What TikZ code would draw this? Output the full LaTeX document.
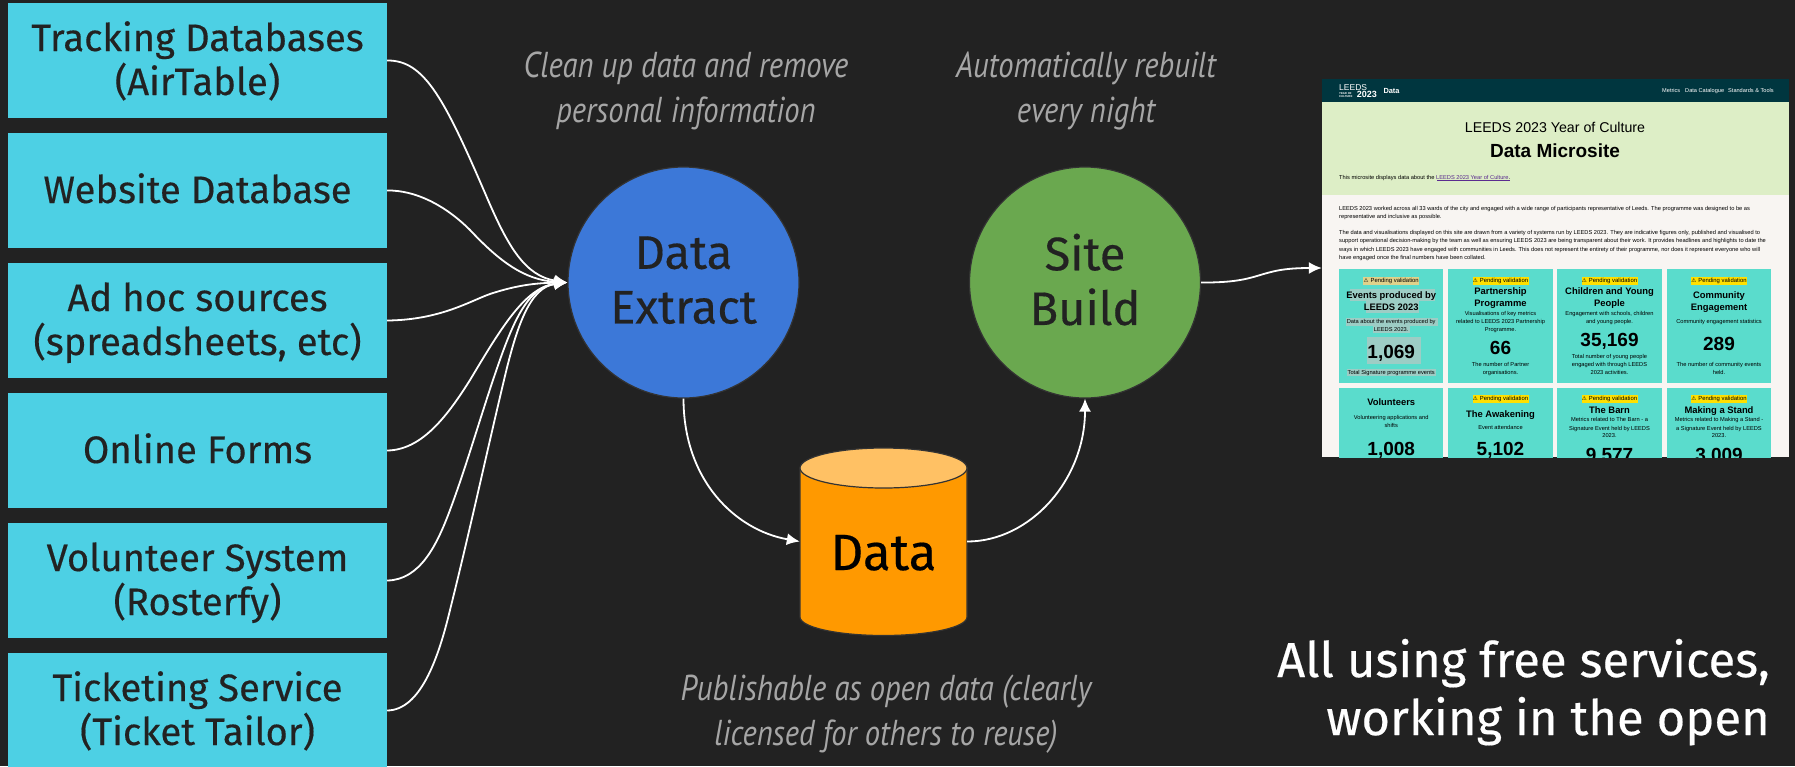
\documentclass[tikz,border=0pt]{standalone}
\usepackage{fontspec}
\setmainfont[FakeBold=0.35]{Fira Sans}
\newfontfamily\shot{Liberation Sans}
\newfontfamily\symf{DejaVu Sans}
\newfontfamily\hand[FakeStretch=0.85]{PT Sans}
\usetikzlibrary{arrows.meta}
\definecolor{bgc}{HTML}{222222}
\definecolor{boxc}{HTML}{4DD0E4}
\definecolor{inkc}{HTML}{222222}
\definecolor{blc}{HTML}{3C78D8}
\definecolor{grc}{HTML}{6AA84F}
\definecolor{edgec}{HTML}{333333}
\definecolor{orc}{HTML}{FF9900}
\definecolor{ortop}{HTML}{FFC164}
\definecolor{handc}{HTML}{A6A6A6}
\definecolor{headc}{HTML}{00363F}
\definecolor{leafc}{HTML}{DDEEC6}
\definecolor{paperc}{HTML}{F8F5F2}
\definecolor{cardc}{HTML}{5ADCCC}
\definecolor{yelc}{HTML}{FFE000}
\definecolor{selc}{HTML}{9DCDC5}
\definecolor{selb}{HTML}{E0D28B}
\definecolor{linkc}{HTML}{5B2C8F}
\newcommand{\bstrut}{\rule[-9pt]{0pt}{43pt}}
\newcommand{\cstrut}{\rule[-6.4pt]{0pt}{40pt}}
\newcount\tcnt
\newcommand{\fs}[1]{\fontsize{#1}{#1}\selectfont}
% text line in the screenshot: size, x, y(baseline), text
\newcommand{\tc}[4]{\global\advance\tcnt by 1 \node[shottext,anchor=base,font={\shot\fs{#1}}] (t\the\tcnt) at (#2,#3) {#4};}
\newcommand{\tb}[4]{\global\advance\tcnt by 1 \node[shottext,anchor=base,font={\shot\bfseries\fs{#1}}] (t\the\tcnt) at (#2,#3) {#4};}
\newcommand{\tl}[4]{\global\advance\tcnt by 1 \node[shottext,anchor=base west,font={\shot\fs{#1}}] (t\the\tcnt) at (#2,#3) {#4};}
\newcommand{\badge}[3]{\global\advance\tcnt by 1 \node[shottext,fill=#3,minimum width=56pt,minimum height=8pt,anchor=center,font={\shot\fs{5.9}}] (t\the\tcnt) at (#1,#2) {{\symf\bfseries\fs{5.5}\char"26A0}\hspace{2pt}Pending validation};}
\tikzset{
  source/.style={fill=boxc,text=inkc,minimum width=379pt,minimum height=115pt,inner sep=0pt,align=center,font=\fontsize{38.2}{44}\selectfont},
  stage/.style={circle,draw=edgec,line width=1.2pt,minimum size=231pt,inner sep=0pt,text=inkc,align=center,font=\fontsize{47}{54.7}\selectfont},
  note/.style={text=handc,align=center,anchor=base,inner sep=0pt,font=\hand\itshape\fontsize{36}{45}\selectfont},
  wire/.style={white,line width=1.8pt,-{Latex[length=13pt,width=12pt]}},
  shottext/.style={inner sep=0pt,text=black},
  card/.style={fill=cardc,draw=none}
}
\begin{document}
\begin{tikzpicture}[x=1pt,y=-1pt]
\useasboundingbox (0,0) rectangle (1795,766);
\fill[bgc] (0,0) rectangle (1795,766);
% sources
\node[source] (s1) at (197.5,60.5) {\bstrut Tracking Databases\\\bstrut (AirTable)};
\node[source] (s2) at (197.5,190.5) {\bstrut Website Database};
\node[source] (s3) at (197.5,320.5) {\bstrut Ad hoc sources\\\bstrut (spreadsheets, etc)};
\node[source] (s4) at (197.5,450.5) {\bstrut Online Forms};
\node[source] (s5) at (197.5,580.5) {\bstrut Volunteer System\\\bstrut (Rosterfy)};
\node[source] (s6) at (197.5,710.5) {\bstrut Ticketing Service\\\bstrut (Ticket Tailor)};
% stages
\node[stage,fill=blc] (extract) at (683.5,282.5) {\cstrut Data\\\cstrut Extract};
\node[stage,fill=grc] (build) at (1085,282.5) {\cstrut Site\\\cstrut Build};
% data store
\filldraw[fill=orc,draw=edgec,line width=1.2pt] (800,468) -- (800,617) arc[start angle=180,end angle=360,x radius=83.5,y radius=-18.5] -- (967,468) -- cycle;
\filldraw[fill=ortop,draw=edgec,line width=1.2pt] (883.5,468) ellipse[x radius=83.5,y radius=20];
\node[minimum width=167pt,minimum height=187pt,inner sep=0pt] (data) at (883.5,541.5) {};
\node[anchor=base,inner sep=0pt,text=black,font=\fontsize{51}{51}\selectfont] (datatext) at (883.5,570) {Data};
% connectors into extract
\draw[wire] (s1.east) .. controls (425,60) and (445,100) .. (488,200) .. controls (508,246) and (525,276) .. (extract.west);
\draw[wire] (s2.east) .. controls (415,190) and (445,205) .. (470,230) .. controls (500,262) and (525,280) .. (extract.west);
\draw[wire] (s3.east) .. controls (440,320) and (470,301) .. (490,294) .. controls (520,284) and (540,283) .. (extract.west);
\draw[wire] (s4.east) .. controls (420,450) and (445,420) .. (470,380) .. controls (500,330) and (525,287) .. (extract.west);
\draw[wire] (s5.east) .. controls (420,580) and (437,545) .. (450,510) .. controls (465,470) and (478,425) .. (493,380) .. controls (510,330) and (525,287) .. (extract.west);
\draw[wire] (s6.east) .. controls (420,710) and (438,660) .. (450,610) .. controls (470,530) and (485,460) .. (504,380) .. controls (517,325) and (530,287) .. (extract.west);
% notes
\node[note] (n1) at (686,77) {Clean up data and remove};
\node[note] (n2) at (686,122) {personal information};
\node[note] (n3) at (1086,77) {Automatically rebuilt};
\node[note] (n4) at (1086,122) {every night};
\node[note] (n5) at (886,700) {Publishable as open data (clearly};
\node[note] (n6) at (886,745) {licensed for others to reuse)};
\node[anchor=base east,inner sep=0pt,text=white,font=\fontsize{49}{49}\selectfont] (free1) at (1770,677) {All using free services,};
\node[anchor=base east,inner sep=0pt,text=white,font=\fontsize{49}{49}\selectfont] (free2) at (1770,735) {working in the open};
% screenshot
\node[fill=paperc,minimum width=467pt,minimum height=378pt,inner sep=0pt] (shot) at (1555.5,268) {};
\begin{scope}
\clip (1322,79) rectangle (1789,457);
\fill[leafc] (1322,102) rectangle (1789,195);
\fill[headc] (1322,79) rectangle (1789,102);
% header
\node[shottext,text=white,anchor=base west,font={\shot\fs{8.5}}] (logoa) at (1339,90) {LEEDS};
\node[shottext,text=white,anchor=base west,font={\shot\bfseries\fs{9}}] (logob) at (1356.7,97.3) {2023};
\node[shottext,text=white,anchor=base west,font={\shot\bfseries\fontsize{2.8}{3}\selectfont}] (logoc) at (1339,94) {YEAR OF};
\node[shottext,text=white,anchor=base west,font={\shot\bfseries\fontsize{2.8}{3}\selectfont}] (logod) at (1339,97) {CULTURE};
\node[shottext,text=white,anchor=base west,font={\shot\bfseries\fs{7.4}}] (navdata) at (1383.3,93) {Data};
\node[shottext,text=white,anchor=base west,font={\shot\fs{5.6}}] (nav1) at (1662,92.7) {Metrics};
\node[shottext,text=white,anchor=base west,font={\shot\fs{5.6}}] (nav2) at (1685,92.7) {Data Catalogue};
\node[shottext,text=white,anchor=base west,font={\shot\fs{5.6}}] (nav3) at (1728,92.7) {Standards \& Tools};
% intro
\tc{14.2}{1555}{132.7}{LEEDS 2023 Year of Culture}
\tb{19}{1555}{157.3}{Data Microsite}
\tl{5.7}{1339}{179}{This microsite displays data about the \textcolor{linkc}{LEEDS 2023 Year of Culture}.}
\draw[linkc,line width=.4pt] (1437,180) -- (1510,180);
\tl{5.7}{1339}{210}{LEEDS 2023 worked across all 33 wards of the city and engaged with a wide range of participants representative of Leeds. The programme was designed to be as}
\tl{5.7}{1339}{218}{representative and inclusive as possible.}
\tl{5.7}{1339}{234.7}{The data and visualisations displayed on this site are drawn from a variety of systems run by LEEDS 2023. They are indicative figures only, published and visualised to}
\tl{5.7}{1339}{242.7}{support operational decision-making by the team as well as ensuring LEEDS 2023 are being transparent about their work. It provides headlines and highlights to date the}
\tl{5.7}{1339}{251}{ways in which LEEDS 2023 have engaged with communities in Leeds. This does not represent the entirety of their programme, nor does it represent everyone who will}
\tl{5.7}{1339}{259}{have engaged once the final numbers have been collated.}
% cards
\foreach \xa/\xb in {1339/1443.3,1448.3/1552.7,1557.3/1661.7,1666.7/1771.3}{
  \fill[card] (\xa,269.3) rectangle (\xb,383.3);
  \fill[card] (\xa,388) rectangle (\xb,470);
}
% selection highlight of card 1
\fill[selc] (1350,289.3) rectangle (1435,301.3);
\fill[selc] (1366,301.3) rectangle (1419,313.3);
\fill[selc] (1346,318.3) rectangle (1437.7,325.7);
\fill[selc] (1373.3,326.3) rectangle (1410,333.3);
\fill[selc] (1367.3,337.3) rectangle (1421,364);
\fill[selc] (1346.7,369.3) rectangle (1436,376);
% card 1
\badge{1391.2}{280.7}{selb}
\tb{9.4}{1391.2}{298.3}{Events produced by}
\tb{9.4}{1391.2}{310}{LEEDS 2023}
\tc{5.7}{1391.2}{323}{Data about the events produced by}
\tc{5.7}{1391.2}{331}{LEEDS 2023.}
\tb{19}{1391.2}{358.3}{1,069}
\tc{5.7}{1391.2}{374.3}{Total Signature programme events}
% card 2
\badge{1500.5}{280.7}{yelc}
\tb{9.4}{1500.5}{294.3}{Partnership}
\tb{9.4}{1500.5}{306.3}{Programme}
\tc{5.7}{1500.5}{315}{Visualisations of key metrics}
\tc{5.7}{1500.5}{323}{related to LEEDS 2023 Partnership}
\tc{5.7}{1500.5}{331}{Programme.}
\tb{19}{1500.5}{354}{66}
\tc{5.7}{1500.5}{366}{The number of Partner}
\tc{5.7}{1500.5}{374.3}{organisations.}
% card 3
\badge{1609.5}{280.7}{yelc}
\tb{9.4}{1609.5}{294.3}{Children and Young}
\tb{9.4}{1609.5}{306.3}{People}
\tc{5.7}{1609.5}{315}{Engagement with schools, children}
\tc{5.7}{1609.5}{323}{and young people.}
\tb{19}{1609.5}{346}{35,169}
\tc{5.7}{1609.5}{358}{Total number of young people}
\tc{5.7}{1609.5}{366}{engaged with through LEEDS}
\tc{5.7}{1609.5}{374.3}{2023 activities.}
% card 4
\badge{1719}{280.7}{yelc}
\tb{9.4}{1719}{298.3}{Community}
\tb{9.4}{1719}{310}{Engagement}
\tc{5.7}{1719}{323}{Community engagement statistics}
\tb{19}{1719}{350}{289}
\tc{5.7}{1719}{366}{The number of community events}
\tc{5.7}{1719}{374.3}{held.}
% card 5
\tb{9.4}{1391.2}{405}{Volunteers}
\tc{5.7}{1391.2}{419}{Volunteering applications and}
\tc{5.7}{1391.2}{427}{shifts}
\tb{19}{1391.2}{455}{1,008}
% card 6
\badge{1500.5}{399.3}{yelc}
\tb{9.4}{1500.5}{417.3}{The Awakening}
\tc{5.7}{1500.5}{429.7}{Event attendance}
\tb{19}{1500.5}{455.7}{5,102}
% card 7
\badge{1609.5}{399.3}{yelc}
\tb{9.4}{1609.5}{413}{The Barn}
\tc{5.7}{1609.5}{421.7}{Metrics related to The Barn - a}
\tc{5.7}{1609.5}{430}{Signature Event held by LEEDS}
\tc{5.7}{1609.5}{437.7}{2023.}
\tb{19}{1609.5}{461}{9,577}
% card 8
\badge{1719}{399.3}{yelc}
\tb{9.4}{1719}{413}{Making a Stand}
\tc{5.7}{1719}{421.7}{Metrics related to Making a Stand -}
\tc{5.7}{1719}{430}{a Signature Event held by LEEDS}
\tc{5.7}{1719}{437.7}{2023.}
\tb{19}{1719}{461}{3,009}
\end{scope}
% connectors
\draw[wire] (extract.south) .. controls (683.5,480) and (735,530) .. (data.west);
\draw[wire] (data.east) .. controls (1030,541.5) and (1085,480) .. (build.south);
\draw[wire] (build.east) .. controls (1265,283) and (1255,268) .. (shot.west |- 0,268);
\end{tikzpicture}
\end{document}
